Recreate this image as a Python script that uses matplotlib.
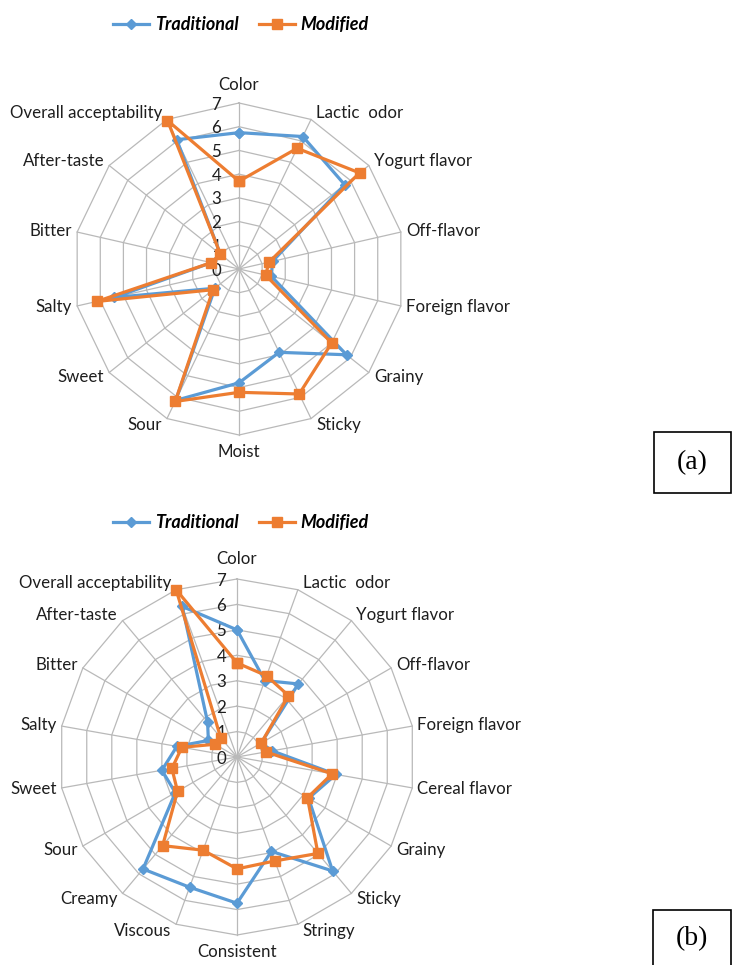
import numpy as np
import matplotlib.pyplot as plt
from matplotlib.patches import Rectangle

W, H, DPI = 732, 965, 100

# ---- sensory attributes and mean scores ----
labels_a = ["Color", "Lactic  odor", "Yogurt flavor", "Off-flavor", "Foreign flavor",
            "Grainy", "Sticky", "Moist", "Sour", "Sweet", "Salty", "Bitter",
            "After-taste", "Overall acceptability"]
trad_a = [5.75, 6.2, 5.7, 1.45, 1.4, 5.8, 3.9, 4.8, 6.15, 1.3, 5.4, 1.2, 1.0, 6.05]
mod_a = [3.7, 5.65, 6.5, 1.3, 1.15, 5.0, 5.85, 5.2, 6.2, 1.4, 6.15, 1.2, 1.0, 6.95]

labels_b = ["Color", "Lactic  odor", "Yogurt flavor", "Off-flavor", "Foreign flavor",
            "Cereal flavor", "Grainy", "Sticky", "Stringy", "Consistent", "Viscous",
            "Creamy", "Sour", "Sweet", "Salty", "Bitter", "After-taste",
            "Overall acceptability"]
trad_b = [5.0, 3.2, 3.75, 1.1, 1.4, 3.95, 3.25, 5.85, 3.95, 5.75, 5.45, 5.75,
          2.8, 3.0, 2.4, 1.3, 1.8, 6.3]
mod_b = [3.7, 3.4, 3.15, 1.1, 1.15, 3.8, 3.2, 4.95, 4.35, 4.4, 3.9, 4.55,
         2.7, 2.6, 2.2, 1.0, 1.0, 7.0]

ticks = [0, 1, 2, 3, 4, 5, 6, 7]
series_names = ["Traditional", "Modified"]

BLUE = "#5B9BD5"
ORANGE = "#ED7D31"
GRID = "#B9B9B9"
TEXT = "#1E1E1E"
FONT = ["Lato", "DejaVu Sans"]
FS = 12.2

fig = plt.figure(figsize=(W / DPI, H / DPI), dpi=DPI)


def radar(cx, cy, radius, labels, trad, mod, top_gap, bottom_gap, tick_gap):
    """Draw a polygon-grid radar chart centred at pixel (cx, cy)."""
    rmax = ticks[-1]
    u = radius / rmax  # pixels per score unit
    ax = fig.add_axes([0, 0, 1, 1])
    ax.set_xlim(-cx / u, (W - cx) / u)
    ax.set_ylim((cy - H) / u, cy / u)
    ax.axis("off")
    ax.patch.set_alpha(0)

    n = len(labels)
    theta = 2 * np.pi * np.arange(n) / n
    sx, sy = np.sin(theta), np.cos(theta)

    # polygon rings
    for t in ticks[1:]:
        ax.plot(np.append(sx, sx[0]) * t, np.append(sy, sy[0]) * t,
                color=GRID, lw=0.9, zorder=1)
    # spokes
    for i in range(n):
        ax.plot([0, sx[i] * rmax], [0, sy[i] * rmax], color=GRID, lw=0.9, zorder=1)

    # scale numbers along the first spoke
    for t in ticks:
        ax.text(-tick_gap / u, t - 1.5 / u, str(t), ha="right", va="center",
                fontsize=FS, family=FONT, color=TEXT, zorder=2)

    # category labels
    pad = 5 / u
    for i, lab in enumerate(labels):
        x, y = sx[i] * rmax, sy[i] * rmax
        if abs(sx[i]) < 0.1:
            ha = "center"
            va = "bottom" if sy[i] > 0 else "top"
            x_t, y_t = x, y + (top_gap / u if sy[i] > 0 else -bottom_gap / u)
        else:
            ha = "left" if sx[i] > 0 else "right"
            va = "center"
            x_t = x + np.sign(sx[i]) * pad
            y_t = y + sy[i] * 7 / u
        ax.text(x_t, y_t, lab, ha=ha, va=va, fontsize=FS, family=FONT,
                color=TEXT, zorder=2)

    def closed(v):
        v = np.asarray(v, dtype=float)
        return np.append(v * sx, v[0] * sx[0]), np.append(v * sy, v[0] * sy[0])

    xt, yt = closed(trad)
    xm, ym = closed(mod)
    l1, = ax.plot(xt, yt, color=BLUE, lw=2.3, marker="D", ms=5,
                  mec=BLUE, mfc=BLUE, zorder=3)
    l2, = ax.plot(xm, ym, color=ORANGE, lw=2.3, marker="s", ms=7.2,
                  mec=ORANGE, mfc=ORANGE, zorder=4)
    return l1, l2


def legend(handles, cx, cy):
    fig.legend(handles, series_names, loc="center", ncol=2, frameon=False,
               bbox_to_anchor=(cx / W, 1 - cy / H),
               prop=dict(family=FONT, weight="bold", style="italic", size=13),
               handlelength=2.0, handletextpad=0.3, columnspacing=1.15,
               borderaxespad=0, borderpad=0)


def panel_tag(text, x0, y0, x1, y1):
    fig.add_artist(Rectangle((x0 / W, 1 - y1 / H), (x1 - x0) / W, (y1 - y0) / H,
                             transform=fig.transFigure, fill=False,
                             ec="black", lw=1.2))
    fig.text((x0 + x1) / 2 / W, 1 - (y0 + y1) / 2 / H, text, ha="center",
             va="center", fontsize=20, family="Liberation Serif")


ha = radar(239, 269, 166, labels_a, trad_a, mod_a,
           top_gap=10, bottom_gap=9, tick_gap=18)
legend(ha, 241, 25)
panel_tag("(a)", 654, 432, 731, 493)

hb = radar(237, 757, 178, labels_b, trad_b, mod_b,
           top_gap=12, bottom_gap=9, tick_gap=11)
legend(hb, 241, 523)
panel_tag("(b)", 653, 910, 731, 967)

fig.savefig("out.png", dpi=DPI)
